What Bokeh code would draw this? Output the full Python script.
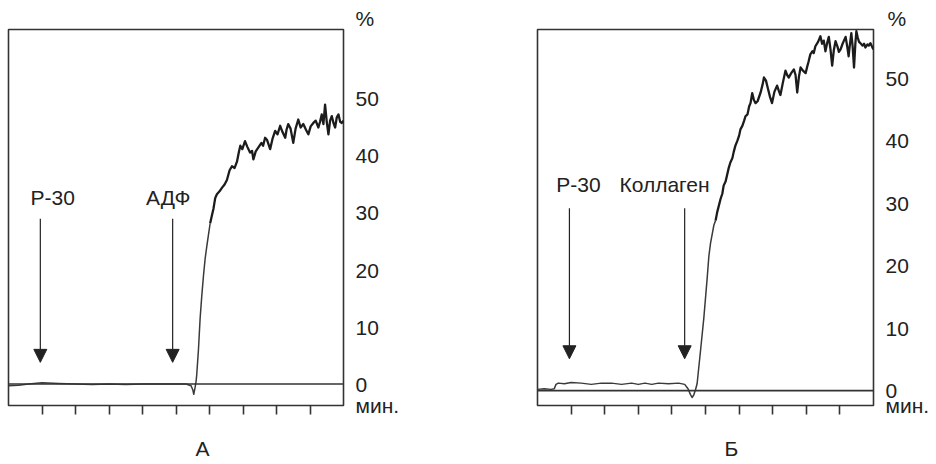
from bokeh.plotting import figure
from bokeh.layouts import row
from bokeh.models import (LinearAxis, FixedTicker, Range1d, Span, Label, Arrow,
                          NormalHead, Title)
from bokeh.embed import file_html
from bokeh.resources import INLINE

# ---------------- data ----------------
minute_ticks = [1, 2, 3, 4, 5, 6, 7, 8, 9]
pct_ticks = [0, 10, 20, 30, 40, 50]

# Panel A (ADP)
a_time = [0, 0.3, 0.6, 1.0, 1.5, 2.0, 2.5, 3.0, 3.5, 4.0, 4.5, 5.0, 5.3, 5.45,
          5.5, 5.53, 5.57, 5.6, 5.62, 5.67, 5.72, 5.77, 5.82, 5.87, 5.92, 5.97,
          6.02, 6.07, 6.12, 6.17, 6.22, 6.3, 6.37, 6.45, 6.52, 6.6, 6.67, 6.75,
          6.82, 6.88, 6.92, 6.98, 7.06, 7.13, 7.21, 7.27, 7.31, 7.38, 7.46, 7.55,
          7.6, 7.66, 7.72, 7.81, 7.88, 7.96, 8.03, 8.11, 8.18, 8.26, 8.3, 8.35,
          8.42, 8.5, 8.57, 8.65, 8.72, 8.8, 8.88, 8.95, 9.02, 9.1, 9.17, 9.25,
          9.3, 9.35, 9.4, 9.45, 9.5, 9.55, 9.6, 9.65, 9.7, 9.75, 9.8, 9.85, 9.9,
          9.95, 10.0]
a_value = [-0.3, -0.2, 0.0, 0.2, 0.1, 0.0, -0.1, 0.0, -0.1, 0.0, 0.0, 0.0, 0.0, -0.3,
           -1.0, -1.8, -0.6, 0.5, 1.7, 6.0, 11.5, 15.5, 19.0, 22.0, 24.2, 26.2,
           28.2, 29.5, 30.8, 32.6, 33.3, 33.8, 34.4, 35.0, 35.8, 37.5, 38.2, 37.9,
           39.0, 40.8, 41.8, 41.2, 42.6, 41.6, 40.6, 40.9, 39.4, 40.8, 41.5, 42.3,
           41.8, 43.2, 42.8, 41.2, 43.0, 44.4, 43.8, 45.3, 44.2, 43.2, 44.6, 45.6,
           44.8, 42.3, 44.8, 46.4, 45.0, 45.6, 44.6, 43.8, 45.2, 45.8, 46.2, 45.0,
           46.0, 47.3, 45.6, 49.0, 46.0, 43.8, 46.2, 47.0, 45.8, 45.0, 46.8, 47.3, 46.0,
           45.8, 46.2]

# Panel B (collagen)
b_time = [0, 0.2, 0.4, 0.5, 0.55, 0.62, 0.8, 1.0, 1.3, 1.6, 1.9, 2.2, 2.5, 2.8,
          3.0, 3.2, 3.4, 3.6, 3.9, 4.2, 4.38, 4.48, 4.55, 4.6, 4.65, 4.7, 4.75,
          4.85, 4.95, 5.05, 5.1, 5.15, 5.25, 5.3, 5.35, 5.45, 5.5, 5.54, 5.6,
          5.69, 5.74, 5.8, 5.84, 5.89, 5.95, 6.0, 6.04, 6.1, 6.15, 6.19, 6.25,
          6.3, 6.34, 6.39, 6.44, 6.49, 6.55, 6.64, 6.7, 6.74, 6.8, 6.85, 6.92,
          6.98, 7.05, 7.13, 7.18, 7.23, 7.3, 7.38, 7.43, 7.48, 7.55, 7.63, 7.68,
          7.73, 7.78, 7.83, 7.9, 7.98, 8.03, 8.07, 8.12, 8.18, 8.22, 8.27, 8.35,
          8.42, 8.47, 8.52, 8.57, 8.62, 8.67, 8.72, 8.77, 8.82, 8.87, 8.93, 8.97,
          9.02, 9.08, 9.12, 9.17, 9.22, 9.26, 9.3, 9.34, 9.38, 9.42, 9.46, 9.49,
          9.53, 9.57, 9.61, 9.67, 9.72, 9.76, 9.82, 9.86, 9.91, 9.96, 10.0]
b_value = [0.2, 0.3, 0.2, 0.3, 1.0, 1.2, 1.1, 1.3, 1.2, 1.0, 1.2, 1.2, 1.0, 1.2,
           1.0, 1.2, 1.0, 1.2, 1.1, 1.2, 1.0, 0.3, -0.6, -1.1, -0.7, 0.1, 1.1,
           6.3, 11.6, 18.0, 21.5, 23.6, 26.5, 27.2, 28.6, 30.7, 31.5, 32.8, 33.5,
           35.6, 36.5, 37.2, 38.2, 39.2, 40.0, 40.8, 41.8, 42.4, 43.2, 43.9, 44.2,
           45.5, 46.0, 47.6, 46.5, 46.0, 46.3, 47.7, 49.0, 50.1, 49.6, 48.5, 47.0,
           46.0, 47.8, 48.8, 48.0, 47.3, 49.2, 51.2, 50.5, 50.1, 50.8, 51.4, 50.5,
           47.7, 50.2, 51.7, 51.2, 50.8, 51.9, 52.7, 53.8, 54.3, 54.0, 55.1, 55.8,
           56.7, 55.5, 56.0, 54.3, 55.6, 56.6, 54.6, 52.0, 54.5, 55.9, 55.0, 54.2,
           54.6, 55.5, 56.0, 56.6, 55.0, 53.5, 55.5, 57.2, 55.0, 51.7, 55.5, 57.5,
           56.5, 55.8, 55.6, 55.2, 55.5, 54.9, 55.4, 55.2, 55.6, 55.0, 54.6]

# time from which the trace becomes noisy / heavy (minutes)
a_heavy_from = 6.0
b_heavy_from = 5.3

# event markers (minutes) and their labels
a_events = [0.95, 4.9]
a_event_labels = ["Р-30", "АДФ"]
a_label_x = [1.32, 4.77]
b_events = [0.95, 4.38]
b_event_labels = ["Р-30", "Коллаген"]
b_label_x = [1.22, 3.78]

panel_letters = ["А", "Б"]
panel_letter_x = [5.79, 5.77]
unit_y = "%"
unit_x = "мин."

FONT = "Liberation Sans"
FS = "21px"
TXT = "#222222"
FIG_H = 462


def make_panel(width, border_left, border_right, border_top, frame_h,
               y0, y1, t, v, heavy_from, events, ev_labels, ev_lx, arrow_top,
               arrow_tip, label_y, pct_offset, letter, letter_x):
    p = figure(width=width, height=FIG_H, output_backend="svg",
               toolbar_location=None, x_range=Range1d(0, 10),
               y_range=Range1d(y0, y1), x_axis_location=None,
               y_axis_location=None, min_border_left=border_left,
               min_border_right=border_right, min_border_top=border_top,
               min_border_bottom=FIG_H - border_top - frame_h)
    p.grid.visible = False
    p.outline_line_color = "#333333"
    p.outline_line_width = 1.6
    p.background_fill_color = "white"
    p.border_fill_color = "white"

    # "%" unit above the percentage scale
    p.add_layout(Title(text=unit_y, align="left", offset=pct_offset, standoff=0,
                       vertical_align="bottom", text_font=FONT,
                       text_font_size=FS, text_font_style="normal",
                       text_color=TXT), "above")

    # right axis with percentage labels, plus the minute unit at the bottom edge
    min_tick = y0 + 0.01
    ya = LinearAxis(ticker=FixedTicker(ticks=pct_ticks + [min_tick]))
    ya.major_label_overrides = {min_tick: unit_x}
    ya.axis_line_color = None
    ya.major_tick_line_color = None
    ya.minor_tick_line_color = None
    ya.major_tick_out = 0
    ya.major_tick_in = 0
    ya.major_label_standoff = 12
    ya.major_label_text_font = FONT
    ya.major_label_text_font_size = FS
    ya.major_label_text_color = TXT
    p.add_layout(ya, "right")

    # bottom axis: minute ticks without labels
    xa = LinearAxis(ticker=FixedTicker(ticks=minute_ticks))
    xa.major_label_overrides = {m: "" for m in minute_ticks}
    xa.axis_line_color = None
    xa.minor_tick_line_color = None
    xa.major_tick_out = 9
    xa.major_tick_in = 0
    xa.major_tick_line_color = "#333333"
    xa.major_tick_line_width = 1.6
    xa.major_label_standoff = 0
    xa.major_label_text_font_size = "10px"
    p.add_layout(xa, "below")

    # panel letter below
    la = LinearAxis(ticker=FixedTicker(ticks=[letter_x]))
    la.major_label_overrides = {letter_x: letter}
    la.axis_line_color = None
    la.major_tick_line_color = None
    la.minor_tick_line_color = None
    la.major_tick_out = 0
    la.major_tick_in = 0
    la.major_label_standoff = 22
    la.major_label_text_font = FONT
    la.major_label_text_font_size = FS
    la.major_label_text_color = TXT
    p.add_layout(la, "below")

    p.add_layout(Span(location=0, dimension="width", line_color="#333333",
                      line_width=1.6))

    # thin early part (baseline + steep rise), heavier noisy plateau
    k = next(i for i, x in enumerate(t) if x >= heavy_from)
    p.line(t[:k + 1], v[:k + 1], line_color="#3a3a3a", line_width=1.5,
           line_join="round")
    p.line(t[k:], v[k:], line_color="#1c1c1c", line_width=2.3,
           line_join="round")

    for ex, lab, lx in zip(events, ev_labels, ev_lx):
        p.add_layout(Arrow(end=NormalHead(size=13, fill_color=TXT, line_color=TXT,
                                          line_width=1),
                           x_start=ex, y_start=arrow_top, x_end=ex, y_end=arrow_tip,
                           line_color=TXT, line_width=1.2))
        p.add_layout(Label(x=lx, y=label_y, text=lab, text_align="center",
                           text_baseline="middle", text_font=FONT,
                           text_font_size=FS, text_color=TXT))
    return p


pa = make_panel(478, 8, 135, 29, 376, -3.77, 62.19, a_time, a_value,
                a_heavy_from, a_events, a_event_labels, a_label_x, 29.0, 3.8,
                32.7, 347, panel_letters[0], panel_letter_x[0])
pb = make_panel(456, 59, 61, 26, 379, -2.38, 57.78, b_time, b_value,
                b_heavy_from, b_events, b_event_labels, b_label_x, 29.2, 5.1,
                33.0, 350, panel_letters[1], panel_letter_x[1])

layout = row(pa, pb)
open("out.html", "w").write(file_html(layout, INLINE))
